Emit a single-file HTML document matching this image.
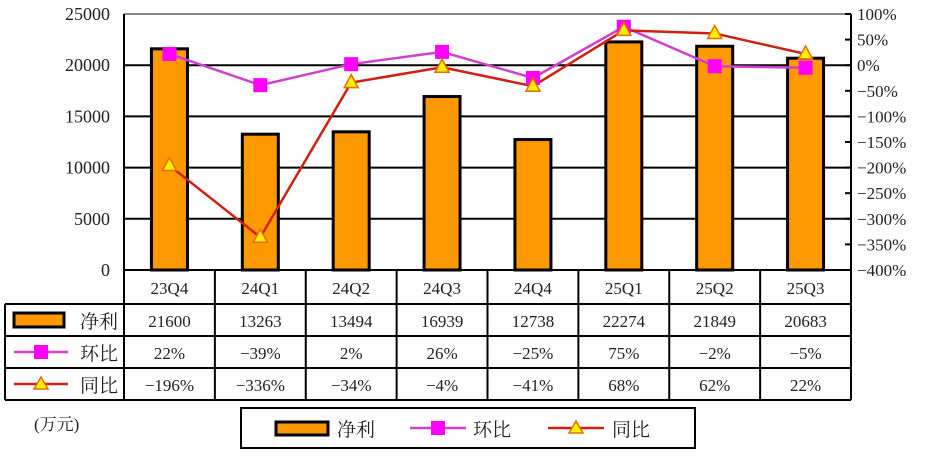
<!DOCTYPE html>
<html><head><meta charset="utf-8"><style>
body{margin:0;background:#fff;width:946px;height:466px;overflow:hidden}
svg text{font-family:"Liberation Serif","Noto Serif CJK SC",serif;fill:#222}
</style></head><body>
<svg id="c" width="946" height="466" xmlns="http://www.w3.org/2000/svg"></svg>
<script>
const categories=["23Q4","24Q1","24Q2","24Q3","24Q4","25Q1","25Q2","25Q3"];
const netProfit=[21600,13263,13494,16939,12738,22274,21849,20683];
const qoq=[22,-39,2,26,-25,75,-2,-5];
const yoy=[-196,-336,-34,-4,-41,68,62,22];
const leftTicks=[0,5000,10000,15000,20000,25000];
const rightTicks=[100,50,0,-50,-100,-150,-200,-250,-300,-350,-400];
const NS="http://www.w3.org/2000/svg";
const svg=document.getElementById('c');
const L=124,R=851,T=14,B=270;
const cw=(R-L)/categories.length;
const xc=i=>L+cw*(i+0.5);
const yL=v=>B-(v/25000)*(B-T);
const yR=v=>B-((v+400)/500)*(B-T);
const pct=v=>String(v).replace('-','\u2212')+'%';
function el(t,a,p){const e=document.createElementNS(NS,t);for(const k in a)e.setAttribute(k,a[k]);(p||svg).appendChild(e);return e;}
function tx(x,y,s,anchor,size){const e=el('text',{x:x,y:y,'text-anchor':anchor||'middle','font-size':size||17});e.textContent=s;return e;}
leftTicks.forEach(v=>{if(v>0&&v<25000){const g=el('line',{x1:L,x2:R,y1:yL(v),y2:yL(v),stroke:'#000','stroke-width':2});

}
const t=tx(L-14,yL(v)+6,String(v),'end',18);

});
el('line',{x1:L,x2:R,y1:T,y2:T,stroke:'#888','stroke-width':2});
rightTicks.forEach(v=>{el('line',{x1:R,x2:R-6,y1:yR(v),y2:yR(v),stroke:'#000','stroke-width':2});
const t=tx(R+6,yR(v)+6,pct(v),'start',17);

});
netProfit.forEach((v,i)=>{const b=el('rect',{x:xc(i)-18,y:yL(v),width:36,height:B-yL(v),fill:'#ff9900',stroke:'#000','stroke-width':3});

});
const p1=el('polyline',{points:qoq.map((v,i)=>xc(i)+','+yR(v)).join(' '),fill:'none',stroke:'#d040d0','stroke-width':2.5});


const p2=el('polyline',{points:yoy.map((v,i)=>xc(i)+','+yR(v)).join(' '),fill:'none',stroke:'#d02010','stroke-width':2.5});


qoq.forEach((v,i)=>{const m=el('rect',{x:xc(i)-7,y:yR(v)-7,width:14,height:14,fill:'#ff00ff'});

});
yoy.forEach((v,i)=>{const x=xc(i),y=yR(v);const m=el('polygon',{points:`${x},${y-8} ${x-7},${y+5} ${x+7},${y+5}`,fill:'#ffee00',stroke:'#e07000','stroke-width':1.5});

});
el('line',{x1:L,x2:L,y1:T,y2:400,stroke:'#000','stroke-width':2});
el('line',{x1:R,x2:R,y1:T,y2:400,stroke:'#000','stroke-width':2});
const rows=[270,304,336,368,400];
rows.forEach((y,k)=>el('line',{x1:k==0?L:5,x2:R,y1:y,y2:y,stroke:'#000','stroke-width':2}));
el('line',{x1:5,x2:5,y1:304,y2:400,stroke:'#000','stroke-width':2});
categories.forEach((c,i)=>{if(i>0)el('line',{x1:L+cw*i,x2:L+cw*i,y1:270,y2:400,stroke:'#000','stroke-width':2});
const h=tx(xc(i),294,c);
tx(xc(i),327,String(netProfit[i]));tx(xc(i),359,pct(qoq[i]));tx(xc(i),391,pct(yoy[i]));});
el('rect',{x:14,y:313,width:50,height:14,fill:'#ff9900',stroke:'#000','stroke-width':3});
tx(80,328,'净利','start',19);
el('line',{x1:14,x2:68,y1:352,y2:352,stroke:'#d040d0','stroke-width':2.5});
el('rect',{x:34,y:345,width:14,height:14,fill:'#ff00ff'});
tx(80,360,'环比','start',19);
el('line',{x1:14,x2:68,y1:384,y2:384,stroke:'#d02010','stroke-width':2.5});
el('polygon',{points:'41,377 34,389 48,389',fill:'#ffee00',stroke:'#e07000','stroke-width':1.5});
tx(80,392,'同比','start',19);
const u=tx(34,430,'(万元)','start',17);
const lg=el('g',{});
el('rect',{x:241,y:408,width:454,height:40,fill:'#fff',stroke:'#000','stroke-width':2},lg);
el('rect',{x:276,y:422,width:52,height:13,fill:'#ff9900',stroke:'#000','stroke-width':3},lg);
tx(337,436,'净利','start',19);
el('line',{x1:410,x2:466,y1:428,y2:428,stroke:'#d040d0','stroke-width':2.5},lg);
el('rect',{x:431,y:421,width:14,height:14,fill:'#ff00ff'},lg);
tx(473,436,'环比','start',19);
el('line',{x1:548,x2:604,y1:428,y2:428,stroke:'#d02010','stroke-width':2.5},lg);
el('polygon',{points:'576,421 569,433 583,433',fill:'#ffee00',stroke:'#e07000','stroke-width':1.5},lg);
tx(612,436,'同比','start',19);
</script>
</body></html>
